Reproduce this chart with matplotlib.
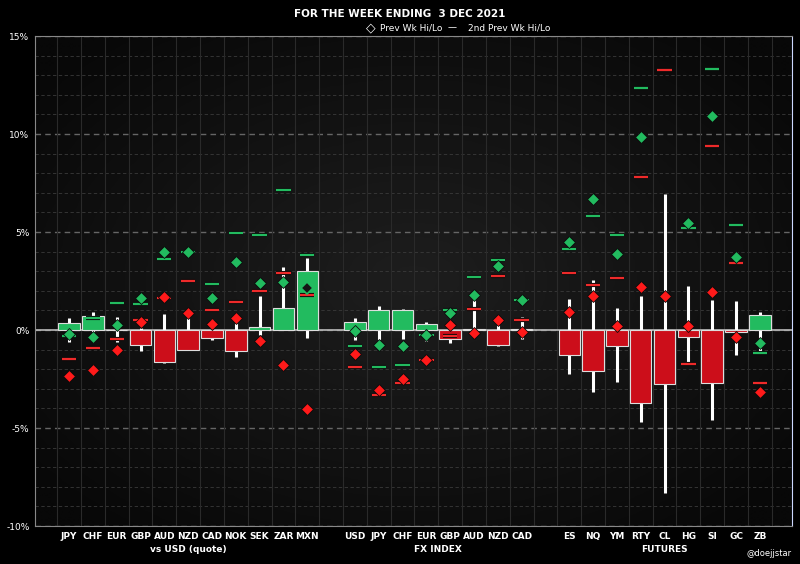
import matplotlib
matplotlib.use("Agg")
import matplotlib.pyplot as plt
import matplotlib.patheffects as pe
from matplotlib.colors import LinearSegmentedColormap
import numpy as np

labels = ["JPY","CHF","EUR","GBP","AUD","NZD","CAD","NOK","SEK","ZAR","MXN",
          "USD","JPY","CHF","EUR","GBP","AUD","NZD","CAD",
          "ES","NQ","YM","RTY","CL","HG","SI","GC","ZB"]
groups = [("vs USD (quote)", 11), ("FX INDEX", 8), ("FUTURES", 9)]
close = [0.37,0.71,-0.02,-0.77,-1.65,-1.01,-0.39,-1.06,0.15,1.13,3.01,
         0.40,1.01,1.01,0.30,-0.44,0.03,-0.74,0.04,
         -1.26,-2.07,-0.81,-3.74,-2.76,-0.37,-2.69,-0.08,0.76]
high = [0.62,0.91,0.67,0.10,0.84,0.64,0.56,0.34,1.72,3.20,3.67,
        0.62,1.25,1.08,0.42,0.05,1.77,0.25,0.64,
        1.60,2.53,1.11,1.72,6.94,2.27,1.52,1.46,0.91]
low = [-0.62,-0.08,-0.62,-1.06,-1.68,-1.04,-0.50,-1.38,-0.25,0.0,-0.42,
       -0.50,-0.50,-0.47,-0.56,-0.64,-0.05,-0.84,-0.45,
       -2.27,-3.16,-2.66,-4.71,-8.30,-1.68,-4.58,-1.30,-1.09]
prev_hi = [-0.22,-0.37,0.25,1.65,3.96,4.00,1.65,3.48,2.42,2.47,2.14,
           -0.03,-0.76,-0.84,-0.24,0.86,1.77,3.27,1.55,
           4.49,6.67,3.87,9.85,16.5,5.45,10.94,3.74,-0.67]
prev_lo = [-2.37,-2.05,-1.01,0.39,1.68,0.89,0.30,0.59,-0.54,-1.80,-4.03,
           -1.20,-3.05,-2.49,-1.53,0.25,-0.15,0.52,-0.08,
           0.91,1.73,0.20,2.17,1.73,0.22,1.95,-0.35,-3.15]
prev2_hi = [-0.29,0.62,1.40,1.35,3.62,3.97,2.36,4.97,4.83,7.15,3.84,
            -0.84,-1.90,-1.78,-0.25,1.01,2.68,3.57,1.53,
            4.11,5.82,4.87,12.34,17.0,5.22,13.30,5.37,-1.18]
prev2_lo = [-1.48,-0.91,-0.47,0.49,1.63,2.49,1.01,1.43,2.00,2.90,1.80,
            -1.90,-3.33,-2.71,-1.55,-0.30,1.09,2.74,0.49,
            2.90,2.32,2.66,7.79,13.27,-1.73,9.39,3.40,-2.69]

pos = []
start = 0
for name, n in groups:
    pos += list(range(start, start + n))
    start += n + 1
pos = np.array(pos, dtype=float)

GREEN = "#22bb5f"; RED = "#cc0e1a"
fig = plt.figure(figsize=(8, 5.64), dpi=100, facecolor="black")
ax = fig.add_axes([35/800, 1-526/564, 757/800, 490/564])
ax.set_facecolor("#111111")
ax.set_xlim(-1.43, 30.35)
ax.set_ylim(-10, 15)

gx, gy = np.meshgrid(np.linspace(-1, 1, 200), np.linspace(-1, 1, 200))
glow = 1 - np.clip(np.sqrt(gx**2 + gy**2) / 1.3, 0, 1)
cmap = LinearSegmentedColormap.from_list("bg", ["#080808", "#1e1e1e"])
ax.imshow(glow, extent=[-1.43, 30.35, -10, 15], aspect="auto", cmap=cmap,
          vmin=0, vmax=1, zorder=-1, interpolation="bilinear")

for y in np.arange(-10, 15.01, 1):
    ax.axhline(y, color="#3a3a3a" if y % 5 else "#666666", lw=0.6 if y % 5 else 1.0,
               ls=(0, (4, 3)), zorder=0)
for x in np.arange(-1.5, 31, 1):
    ax.axvline(x, color="#2a2a2a", lw=0.8, zorder=0)
ax.axhline(0, color="#bbbbbb", lw=1.2, zorder=1)

w = 0.9
for x, c, h, l in zip(pos, close, high, low):
    ax.vlines(x, l, h, color="white", lw=2.2, zorder=2)
    ax.bar(x, c, width=w, bottom=0, color=GREEN if c >= 0 else RED,
           edgecolor="#dddddd", lw=0.8, zorder=3)

stroke = [pe.withStroke(linewidth=3, foreground="#0a0a0a")]
ax.hlines(prev2_hi, pos - 0.3, pos + 0.3, color=GREEN, lw=1.6, zorder=4, path_effects=stroke)
ax.hlines(prev2_lo, pos - 0.3, pos + 0.3, color="#ee2a2a", lw=1.6, zorder=4, path_effects=stroke)
for x, v, c in zip(pos, prev_hi, close):
    inside = (0 < v < c)
    ax.plot(x, v, marker="D", ms=6.5, mfc="#151515" if inside else GREEN,
            mec=GREEN if inside else "#0a0a0a", mew=1.2 if inside else 0.6, zorder=5)
ax.plot(pos, prev_lo, ls="none", marker="D", ms=6.5, mfc="#ff1a1a", mec="#0a0a0a", mew=0.6, zorder=5)

ax.set_xticks(pos)
ax.set_xticklabels(labels, color="white", fontsize=6.5, fontweight="bold")
ax.set_yticks(np.arange(-10, 16, 5))
ax.set_yticklabels([f"{v}%" for v in range(-10, 16, 5)], color="white", fontsize=6.5)
ax.tick_params(length=0, pad=4)
for s in ax.spines.values():
    s.set_color("#888888"); s.set_linewidth(0.8)
ax.spines["right"].set_color("#ccd8ff")

start = 0
for name, n in groups:
    ax.text(start + (n - 1) / 2, -23/490, name, transform=ax.get_xaxis_transform(),
            ha="center", va="center", color="white", fontsize=6.5, fontweight="bold")
    start += n + 1

fig.text(0.5, 1 - 14/564, "FOR THE WEEK ENDING  3 DEC 2021", ha="center", va="center",
         color="white", fontsize=7.5, fontweight="bold")
fig.text(0.47, 1 - 28/564, "\u25C7", ha="right", va="center", color="white", fontsize=9, fontweight="bold")
fig.text(0.475, 1 - 28/564, "Prev Wk Hi/Lo", ha="left", va="center", color="white", fontsize=6.5)
fig.text(0.56, 1 - 28/564, "\u2014", ha="left", va="center", color="white", fontsize=6.5)
fig.text(0.585, 1 - 28/564, "2nd Prev Wk Hi/Lo", ha="left", va="center", color="white", fontsize=6.5)
fig.text(0.99, 1 - 553/564, "@doejjstar", ha="right", va="center", color="white", fontsize=6)

fig.savefig("out.png", dpi=100, facecolor="black")
